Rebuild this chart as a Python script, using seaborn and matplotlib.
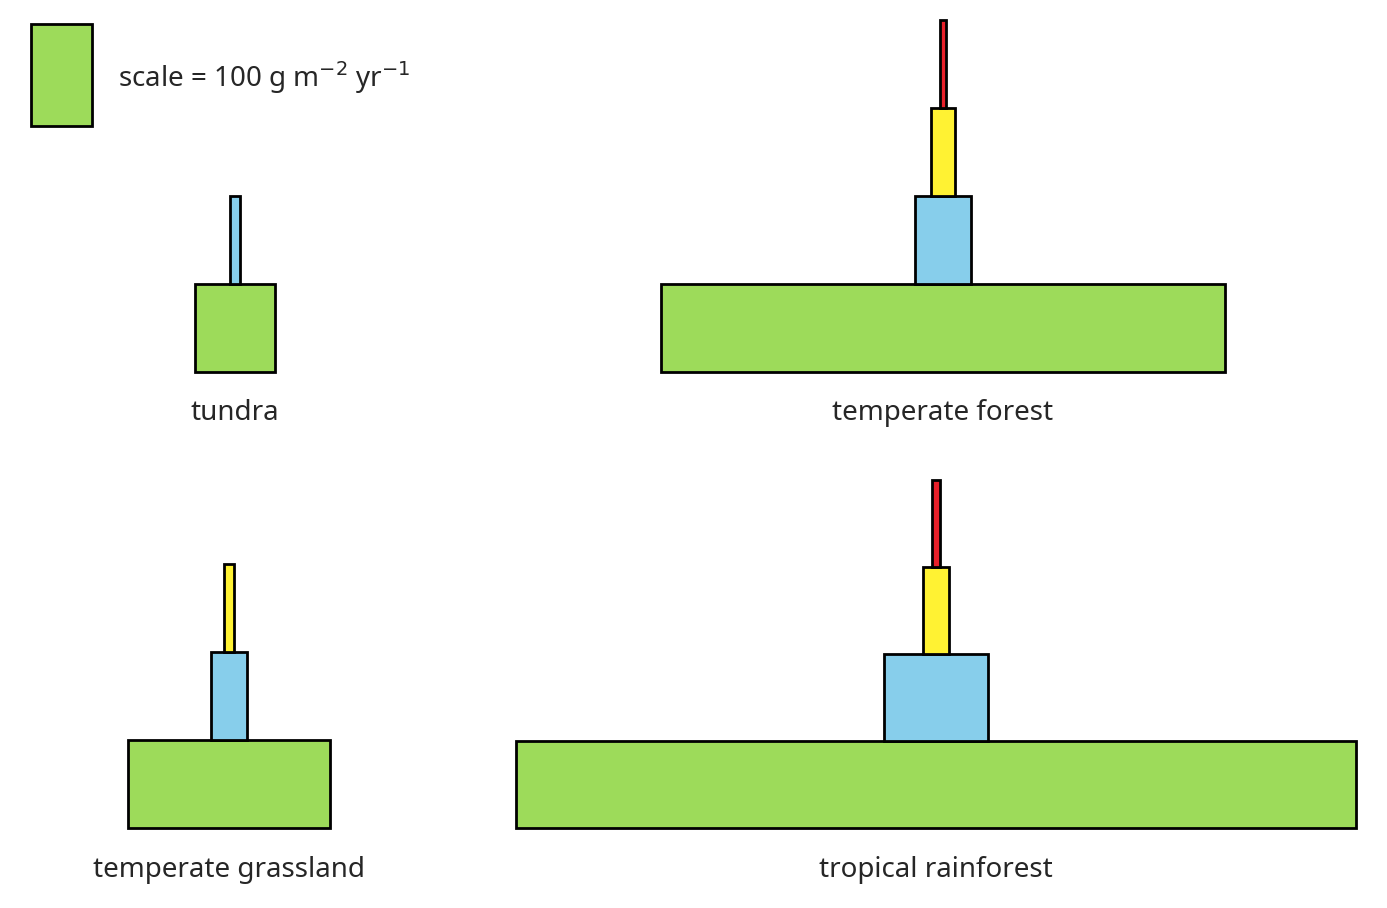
import matplotlib
matplotlib.use("Agg")
import matplotlib.pyplot as plt
import seaborn as sns

sns.set_style("white")
plt.rcParams['font.family'] = ['Noto Sans', 'DejaVu Sans']

# productivity values (g m^-2 yr^-1) per trophic level: producers, primary, secondary, tertiary consumers
biomes = ["tundra", "temperate forest", "temperate grassland", "tropical rainforest"]
producers = [130, 925, 330, 1377]
primary = [16, 92, 60, 169]
secondary = [0, 38, 15, 43]
tertiary = [0, 11, 0, 13]
scale_value = 100
level_colors = ["#9ddb5a", "#87ceeb", "#fff233", "#e8202a"]

# layout (pixel space)
px_per_unit = 0.61
centers = [235, 943, 229, 936]
bases = [372, 372, 828, 828]
level_h = [88, 88, 88, 87]
label_y = [413, 413, 870, 870]

fig = plt.figure(figsize=(13.87, 9.08), dpi=100)
ax = fig.add_axes([0, 0, 1, 1])
ax.set_xlim(0, 1387)
ax.set_ylim(908, 0)
ax.axis("off")

for i, name in enumerate(biomes):
    vals = [producers[i], primary[i], secondary[i], tertiary[i]]
    for lvl, v in enumerate(vals):
        if v <= 0:
            continue
        bottom = bases[i] - lvl * level_h[i]
        ax.bar(centers[i], -level_h[i], width=v * px_per_unit, bottom=bottom,
               color=level_colors[lvl], edgecolor="black", linewidth=2, align="center")
    ax.text(centers[i], label_y[i], name, ha="center", va="center", fontsize=20)

# scale box
ax.bar(61, -102, width=scale_value * px_per_unit, bottom=126, color=level_colors[0],
       edgecolor="black", linewidth=2)
ax.text(118, 78, r"scale = 100 g m$^{-2}$ yr$^{-1}$", ha="left", va="center", fontsize=20)

fig.savefig("out.png", dpi=100)
